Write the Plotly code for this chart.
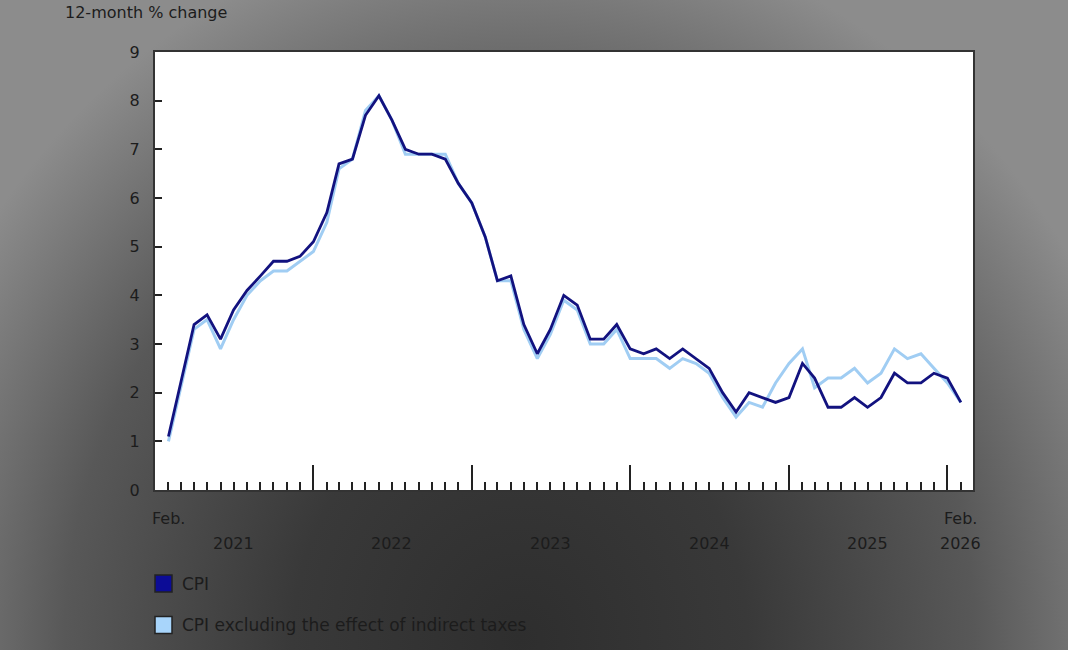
import base64
import pandas as pd
import plotly.graph_objects as go

# 12-month % change, Feb 2021 to Feb 2026
months = pd.date_range("2021-02-01", "2026-02-01", freq="MS")

cpi = [1.1, 2.2, 3.4, 3.6, 3.1, 3.7, 4.1, 4.4, 4.7, 4.7, 4.8,
       5.1, 5.7, 6.7, 6.8, 7.7, 8.1, 7.6, 7.0, 6.9, 6.9, 6.8, 6.3,
       5.9, 5.2, 4.3, 4.4, 3.4, 2.8, 3.3, 4.0, 3.8, 3.1, 3.1, 3.4,
       2.9, 2.8, 2.9, 2.7, 2.9, 2.7, 2.5, 2.0, 1.6, 2.0, 1.9, 1.8,
       1.9, 2.6, 2.3, 1.7, 1.7, 1.9, 1.7, 1.9, 2.4, 2.2, 2.2, 2.4,
       2.3, 1.8]

cpi_ex_taxes = [1.0, 2.1, 3.3, 3.5, 2.9, 3.5, 4.0, 4.3, 4.5, 4.5, 4.7,
                4.9, 5.5, 6.6, 6.8, 7.8, 8.1, 7.6, 6.9, 6.9, 6.9, 6.9, 6.3,
                5.9, 5.2, 4.3, 4.3, 3.3, 2.7, 3.2, 3.9, 3.7, 3.0, 3.0, 3.3,
                2.7, 2.7, 2.7, 2.5, 2.7, 2.6, 2.4, 1.9, 1.5, 1.8, 1.7, 2.2,
                2.6, 2.9, 2.1, 2.3, 2.3, 2.5, 2.2, 2.4, 2.9, 2.7, 2.8, 2.5,
                2.2, 1.8]

series_names = ["CPI", "CPI excluding the effect of indirect taxes"]

year_labels = ["2021", "2022", "2023", "2024", "2025", "2026"]
year_label_pos = ["2021-07-01", "2022-07-01", "2023-07-01", "2024-07-01",
                  "2025-07-01", "2026-02-01"]
jan_ticks = ["2022-01-01", "2023-01-01", "2024-01-01", "2025-01-01", "2026-01-01"]

DARK = "#12127f"
LIGHT = "#a0cdf3"
TXT = "#1c1c1c"
FONT = "DejaVu Sans"

# grey vignette behind the chart
svg = ('<svg xmlns="http://www.w3.org/2000/svg" width="1068" height="650" '
       'viewBox="0 0 1068 650" preserveAspectRatio="none"><defs>'
       '<radialGradient id="g" gradientUnits="userSpaceOnUse" cx="0" cy="0" r="1" '
       'gradientTransform="translate(520 640) scale(650 720)">'
       '<stop offset="0" stop-color="#2e2e2e"/><stop offset="0.35" stop-color="#393939"/>'
       '<stop offset="0.7" stop-color="#585858"/><stop offset="1" stop-color="#8c8c8c"/>'
       '</radialGradient></defs><rect width="1068" height="650" fill="url(#g)"/></svg>')
bg_src = "data:image/svg+xml;base64," + base64.b64encode(svg.encode()).decode()

W, H = 1068, 650
L, R, T, B = 155, 95, 52, 160
pw, ph = W - L - R, H - T - B


def px_x(x):
    return (x - L) / pw


def px_y(y):
    return (T + ph - y) / ph


fig = go.Figure()
fig.add_trace(go.Scatter(x=months, y=cpi_ex_taxes, mode="lines", name=series_names[1],
                         line=dict(color=LIGHT, width=3), showlegend=False))
fig.add_trace(go.Scatter(x=months, y=cpi, mode="lines", name=series_names[0],
                         line=dict(color=DARK, width=2.8), showlegend=False))

fig.add_layout_image(dict(source=bg_src, xref="paper", yref="paper",
                          x=-L / pw, y=1 + T / ph, sizex=W / pw, sizey=H / ph,
                          xanchor="left", yanchor="top", sizing="stretch",
                          layer="below"))
# white plot area on top of the vignette
fig.add_shape(type="rect", xref="paper", yref="paper", x0=0, x1=1, y0=0, y1=1,
              fillcolor="white", line=dict(width=0), layer="below")

annotations = [dict(text="12-month % change", xref="paper", yref="paper",
                    x=px_x(63), y=px_y(12), xanchor="left",
                    yanchor="middle", showarrow=False,
                    font=dict(size=16, color=TXT, family=FONT))]
for pos in ["2021-02-01", "2026-02-01"]:
    annotations.append(dict(text="Feb.", x=pos, xref="x", y=0, yref="paper",
                            yshift=-28, yanchor="middle", showarrow=False,
                            font=dict(size=16, color=TXT, family=FONT)))
for lab, pos in zip(year_labels, year_label_pos):
    annotations.append(dict(text=lab, x=pos, xref="x", y=0, yref="paper",
                            yshift=-53, yanchor="middle", showarrow=False,
                            font=dict(size=16, color=TXT, family=FONT)))

# legend: coloured squares with labels below the chart
for name, fill, cy in zip(series_names, ["#0c0c96", "#a8d5fb"], [583.5, 625]):
    fig.add_shape(type="rect", xref="paper", yref="paper",
                  x0=px_x(155), x1=px_x(172), y0=px_y(cy + 8.5), y1=px_y(cy - 8.5),
                  fillcolor=fill, line=dict(color="#222", width=1.5))
    annotations.append(dict(text=name, xref="paper", yref="paper",
                            x=px_x(180), y=px_y(cy), xanchor="left",
                            yanchor="middle", showarrow=False,
                            font=dict(size=17, color=TXT, family=FONT)))

fig.update_layout(
    width=W, height=H,
    margin=dict(l=L, r=R, t=T, b=B),
    paper_bgcolor="#555555",
    plot_bgcolor="white",
    font=dict(family=FONT, size=16, color=TXT),
    showlegend=False,
    annotations=annotations,
    xaxis=dict(type="date", range=["2021-01-01", "2026-03-01"],
               tickvals=jan_ticks, ticks="inside", ticklen=25, tickwidth=1.5,
               tickcolor="#222", showticklabels=False, showgrid=False,
               zeroline=False, showline=True, mirror=True, linecolor="#333",
               linewidth=2,
               minor=dict(tickvals=list(months), ticks="inside", ticklen=8,
                          tickwidth=1.5, tickcolor="#222", showgrid=False)),
    yaxis=dict(range=[0, 9], tickvals=list(range(10)), ticks="inside",
               ticklen=7, tickwidth=1.5, tickcolor="#222", showgrid=False,
               zeroline=False, showline=True, mirror=True, linecolor="#333",
               linewidth=2, ticklabelstandoff=10,
               tickfont=dict(size=16, color=TXT, family=FONT)),
)

fig.write_html("out.html", config={"displayModeBar": False},
               post_script="document.body.style.margin = '0';")
